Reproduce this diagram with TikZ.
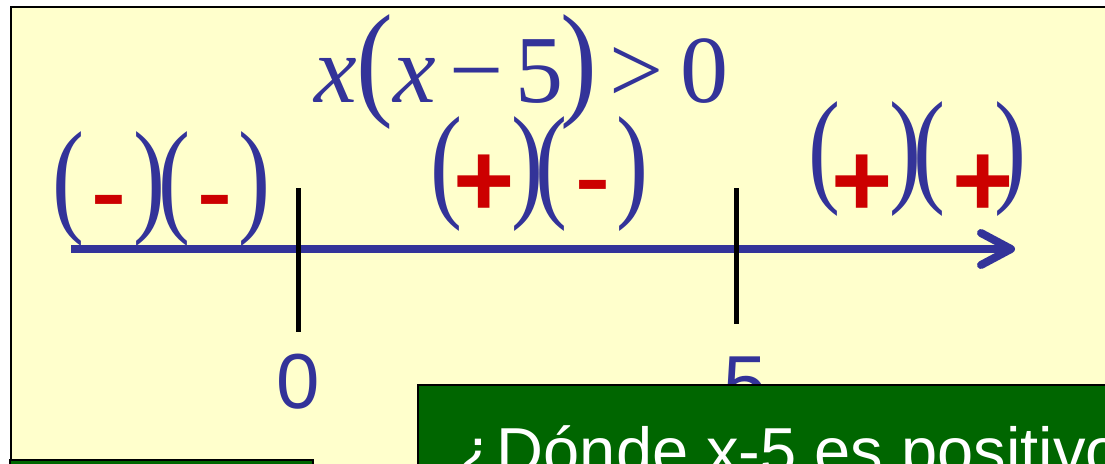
\documentclass[tikz,border=0pt]{standalone}
\usepackage{fontspec}
\setmainfont{Liberation Serif}
\setsansfont{Liberation Sans}
\usetikzlibrary{arrows.meta}
\definecolor{signblue}{HTML}{333399}
\definecolor{signred}{HTML}{CC0000}
\definecolor{slideyellow}{HTML}{FFFFCC}
\definecolor{slidegreen}{HTML}{006600}
\newcommand{\grppar}[1]{\scalebox{1}[1.32]{#1}}
\newcommand{\eqpar}[1]{\scalebox{1.15}[1.32]{#1}}
\newcommand{\thinbar}{\scalebox{1}[0.72]{-}}
\tikzset{
  paren/.style={inner sep=0pt, text=signblue, font=\fontsize{96}{96}\selectfont},
  sgn/.style={inner sep=0pt, anchor=base, text=signred, font=\fontsize{105}{105}\selectfont\sffamily\bfseries},
  numlbl/.style={inner sep=0pt, anchor=base, text=signblue, font=\fontsize{78}{78}\selectfont\sffamily},
  axistick/.style={line width=5pt, draw=black},
  axisline/.style={line width=8pt, draw=signblue, -{Straight Barb[length=30pt, width=32pt, round]}},
  panel/.style={draw=black, line width=2pt, fill=slidegreen},
}
\begin{document}
\begin{tikzpicture}[x=1pt, y=-1pt]
  \useasboundingbox (0,0) rectangle (1105,463);
  \clip (0,0) rectangle (1105,463);
  \fill[white] (0,0) rectangle (1105,463);
  % slide background
  \draw[fill=slideyellow, line width=2pt] (11,7) rectangle (1130,490);
  % inequality
  \node[paren, anchor=base west] (ineq) at (314,102)
    {\textit{x}\eqpar{(}\textit{x}\kern13pt−\kern12pt5\kern-3pt\eqpar{)}\kern12pt>\kern17pt0};
  % sign groups
  \foreach \nm/\px/\py in {a1/68.5/189.5, a3/174/189.5, b1/446.5/174.5, b3/551.5/174.5, c1/824.5/159, c3/929.5/159}
    \node[paren] (\nm) at (\px,\py) {\grppar{(}};
  \foreach \nm/\px/\py in {a4/149/189.5, a6/254.5/189.5, b4/527/174.5, b6/632.5/174.5, c4/905/159, c6/1010.5/159}
    \node[paren] (\nm) at (\px,\py) {\grppar{)}};
  \foreach \nm/\px/\py/\s in {a2/108.5/219.5/\thinbar, a5/214.5/219.5/\thinbar, b2/484.5/216/+, b5/592.5/204/\thinbar, c2/862/216/+, c5/983/216/+}
    \node[sgn] (\nm) at (\px,\py) {\s};
  % number line
  \coordinate (axisL) at (71,249);
  \coordinate (axisR) at (1015,249);
  \draw[axisline] (axisL) -- (axisR);
  \coordinate (zeroT) at (298,188);
  \coordinate (zeroB) at (298,332);
  \coordinate (fiveT) at (736,188);
  \coordinate (fiveB) at (736,324);
  \draw[axistick] (zeroT) -- (zeroB);
  \draw[axistick] (fiveT) -- (fiveB);
  \node[numlbl] (zero) at (298,408) {0};
  \node[numlbl] (five) at (745,410) {5};
  % boxes
  \draw[panel] (10,460) rectangle (313,490);
  \draw[panel] (418,385) rectangle (1130,490);
  \node[inner sep=0pt, anchor=base west, text=white, font=\fontsize{65}{65}\selectfont\sffamily]
    (question) at (457,473) {¿Dónde x-5 es positivo};
\end{tikzpicture}
\end{document}
